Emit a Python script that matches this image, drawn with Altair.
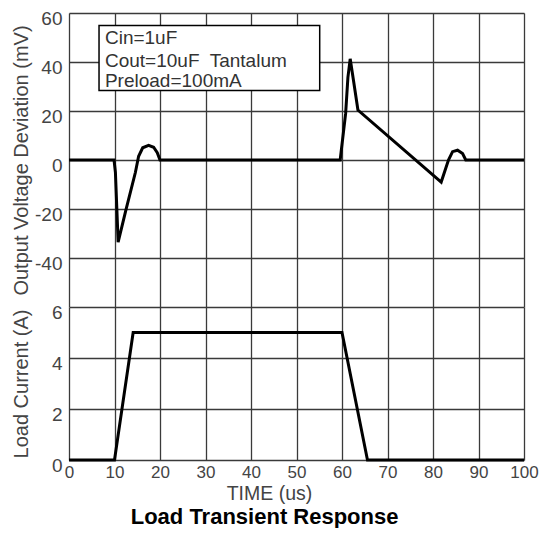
import altair as alt
import pandas as pd

# Output voltage deviation (mV) vs time (us)
top_t = [0, 9.9, 10.2, 10.8, 12.5, 14.6, 15.3, 16.2, 17.5, 18.6, 19.4, 20.0,
         59.6, 60.8, 61.3, 61.8, 62.6, 63.5, 81.8, 83.4, 84.3, 85.4, 86.5, 87.2, 100]
top_v = [0, 0, -5, -33.5, -20.5, -5, 1.5, 5, 6, 5.2, 3, 0,
         0, 19, 33.7, 41.3, 31.5, 20.4, -9, 0, 3.4, 4, 2.6, 0, 0]

# Load current (A) vs time (us)
bot_t = [0, 10, 14.1, 60, 65.6, 100]
bot_i = [0, 0, 5, 5, 0, 0]

x_ticks = [0, 10, 20, 30, 40, 50, 60, 70, 80, 90, 100]
top_ticks = [-40, -20, 0, 20, 40, 60]
bot_ticks = [0, 2, 4, 6]

note_lines = ["Cin=1uF", "Cout=10uF\u00a0 Tantalum", "Preload=100mA"]
note_y = [49.6, 40.6, 32.4]

FONT = "Liberation Sans"
W = 455
H_TOP = 294
H_BOT = 153
GRID = "#3a3a3a"

top_df = pd.DataFrame({"t": top_t, "v": top_v, "i": range(len(top_t))})
bot_df = pd.DataFrame({"t": bot_t, "a": bot_i, "i": range(len(bot_t))})
note_df = pd.DataFrame({"x": [7.9] * 3, "y": note_y, "txt": note_lines})
box_df = pd.DataFrame({"x": [6.6], "x2": [55.1], "y": [54.9], "y2": [28.4]})

xscale = alt.Scale(domain=[0, 100], nice=False)
PLAIN = "'' + datum.value"

top_x_axis = alt.Axis(values=x_ticks, labels=False, ticks=False, domain=False,
                      title=None, grid=True, gridColor=GRID, gridWidth=1.3)
top_y_axis = alt.Axis(values=top_ticks, ticks=False, domain=False, grid=True,
                      gridColor=GRID, gridWidth=1.3, labelExpr=PLAIN,
                      labelPadding=7, labelFontSize=19, labelOffset=5,
                      labelFont=FONT, labelColor="#444",
                      title="Output Voltage Deviation (mV)", titleFontSize=20,
                      titleFont=FONT, titleColor="#444", titleFontWeight="normal",
                      titleX=-48, titleY=H_TOP / 2, titleAngle=-90,
                      titleBaseline="middle", titleAlign="center")

top_line = alt.Chart(top_df).mark_line(color="black", strokeWidth=3).encode(
    x=alt.X("t:Q", scale=xscale, axis=top_x_axis),
    y=alt.Y("v:Q", scale=alt.Scale(domain=[-60, 60], nice=False), axis=top_y_axis),
    order="i:Q",
)
box = alt.Chart(box_df).mark_rect(fill="white", stroke="black", strokeWidth=1.5).encode(
    x="x:Q", x2="x2:Q", y="y:Q", y2="y2:Q"
)
notes = alt.Chart(note_df).mark_text(align="left", baseline="middle", fontSize=19,
                                     font=FONT, color="#333").encode(
    x="x:Q", y="y:Q", text="txt:N"
)
top = alt.layer(top_line, box, notes).properties(width=W, height=H_TOP)

bot_x_axis = alt.Axis(values=x_ticks, ticks=False, domain=False, grid=True,
                      gridColor=GRID, gridWidth=1.3, labelExpr=PLAIN,
                      labelPadding=4, labelFontSize=17, labelFlush=False,
                      labelFont=FONT, labelColor="#444",
                      title="TIME (us)", titleFontSize=19.5, titlePadding=4,
                      titleFont=FONT, titleColor="#444", titleFontWeight="normal",
                      titleX=200, titleAlign="center")
bot_y_axis = alt.Axis(values=bot_ticks, ticks=False, domain=False, grid=True,
                      gridColor=GRID, gridWidth=1.3, labelExpr=PLAIN,
                      labelPadding=7, labelFontSize=19, labelOffset=5,
                      labelFont=FONT, labelColor="#444",
                      title="Load Current (A)", titleFontSize=20,
                      titleFont=FONT, titleColor="#444", titleFontWeight="normal",
                      titleX=-48, titleY=H_BOT / 2, titleAngle=-90,
                      titleBaseline="middle", titleAlign="center")

bottom = alt.Chart(bot_df).mark_line(color="black", strokeWidth=3).encode(
    x=alt.X("t:Q", scale=xscale, axis=bot_x_axis),
    y=alt.Y("a:Q", scale=alt.Scale(domain=[0, 6], nice=False), axis=bot_y_axis),
    order="i:Q",
).properties(width=W, height=H_BOT)

chart = alt.vconcat(top, bottom, spacing=0, bounds="flush").properties(
    title=alt.TitleParams("Load Transient Response", orient="bottom", fontSize=22,
                          fontWeight="bold", font=FONT, color="black", offset=4,
                          anchor="middle", dx=-10),
    padding={"left": 2, "top": 0, "right": 0, "bottom": 0},
).configure_view(
    stroke="#222", strokeWidth=1.5
).configure(background="white")

chart.save("out.html", embed_options={"renderer": "svg", "actions": False})
